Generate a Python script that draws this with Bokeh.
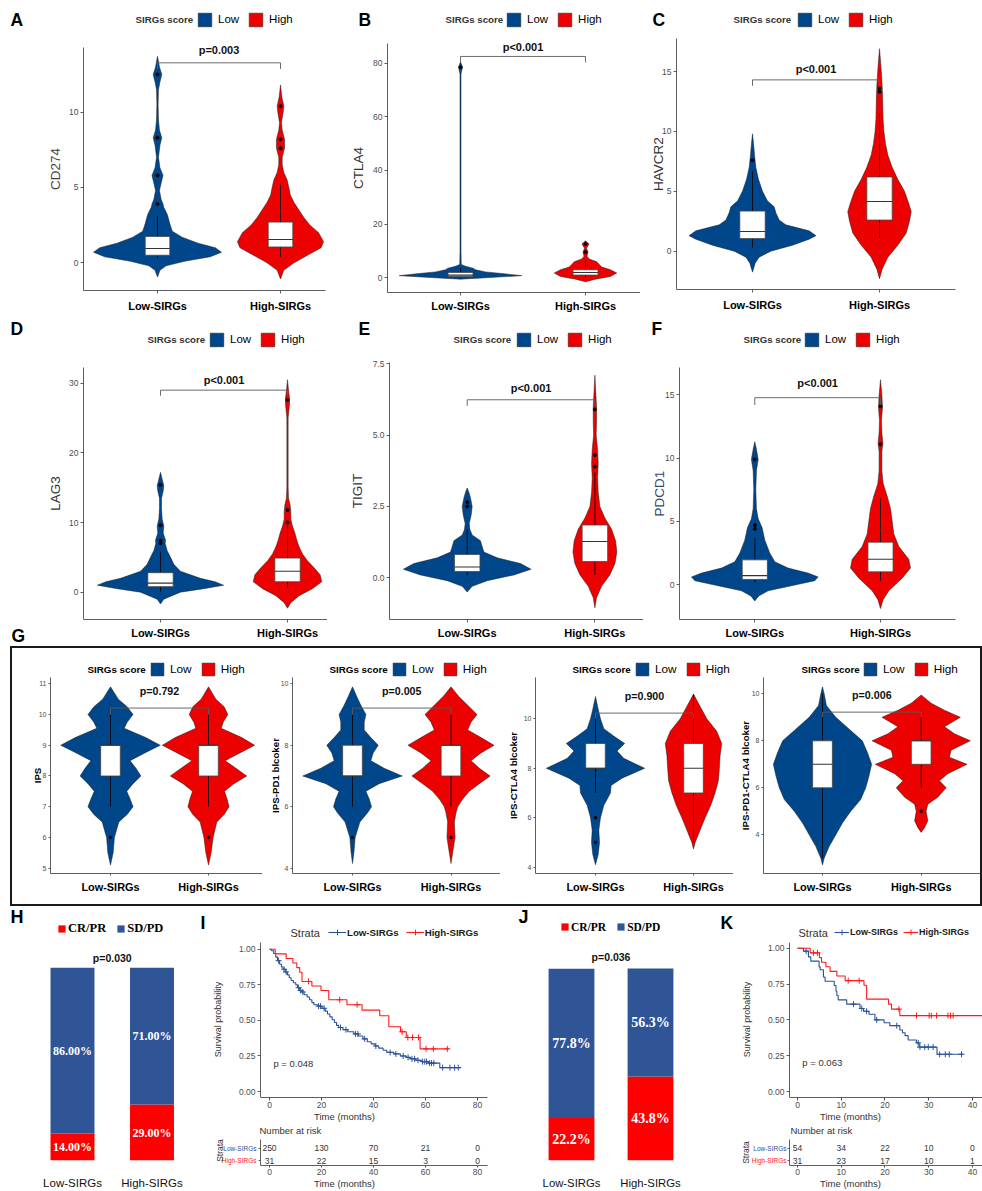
import math
import numpy as np
from bokeh.plotting import figure
from bokeh.models import Range1d, Legend, LegendItem, Label, FixedTicker, Spacer
from bokeh.layouts import row, column
from bokeh.embed import file_html
from bokeh.resources import INLINE
from bokeh.core.properties import value

# ---------------------------------------------------------------- data
GROUPS = ["Low-SIRGs", "High-SIRGs"]
SCORE_LEVELS = ["Low", "High"]
RESPONSE_LEVELS = ["CR/PR", "SD/PD"]

CD274_LOW_Y = [-0.95, -0.5, -0.2, 0.1, 0.4, 0.7, 1.0, 1.3, 1.7, 2.1, 2.6, 3.2, 3.7, 3.9, 4.2, 4.8, 5.3, 5.8, 6.3, 7.0, 7.8, 8.3, 8.8, 9.5, 10.5, 11.5, 12.0, 12.5, 13.0, 13.7]
CD274_LOW_W = [0, .02, .07, .22, .43, .52, .47, .33, .2, .12, .1, .08, .05, .045, .03, .016, .03, .045, .02, .008, .02, .035, .016, .008, .005, .008, .02, .035, .016, 0]
CD274_LOW_BOX = [0.3, 0.5, 0.95, 1.75, 3.1]
CD274_LOW_OUT = [3.9, 5.8, 8.3, 12.5]
CD274_HIGH_Y = [-1.07, -0.5, 0, 0.5, 1.0, 1.4, 2.0, 2.5, 3.0, 3.5, 4.0, 4.5, 5.0, 5.5, 6.0, 6.5, 7.0, 7.6, 8.2, 8.8, 9.3, 10.0, 10.4, 11.0, 11.8]
CD274_HIGH_W = [0, .027, .11, .22, .33, .35, .31, .24, .19, .15, .11, .08, .068, .054, .027, .014, .014, .033, .033, .014, .008, .022, .027, .011, 0]
CD274_HIGH_BOX = [0.4, 1.05, 1.55, 2.7, 5.2]
CD274_HIGH_OUT = [7.6, 8.2, 10.4]

CTLA4_LOW_Y = [-0.5, 0, 0.8, 1.5, 2.2, 3.0, 3.6, 4.3, 5.0, 10, 40, 76, 78.5, 80.5]
CTLA4_LOW_W = [0, .2, .49, .35, .2, .12, .1, .04, .006, .004, .004, .004, .016, 0]
CTLA4_LOW_BOX = [0.0, 0.5, 1.0, 2.0, 3.6]
CTLA4_LOW_OUT = [78.5]
CTLA4_HIGH_Y = [-1.5, -0.5, 0.5, 1.8, 3.0, 4.0, 5.0, 6.0, 7.0, 8.0, 9.6, 11.0, 12.6, 13.8]
CTLA4_HIGH_W = [0, .08, .2, .25, .2, .13, .11, .09, .03, .012, .02, .008, .028, 0]
CTLA4_HIGH_BOX = [0.0, 1.0, 2.0, 3.0, 6.5]
CTLA4_HIGH_OUT = [9.6, 12.6]

HAVCR2_LOW_Y = [-1.75, -1, -0.5, 0, 0.5, 1, 1.3, 1.7, 2.2, 2.6, 3.2, 3.7, 4.2, 5, 6, 7, 8, 9, 9.8]
HAVCR2_LOW_W = [0, .021, .052, .144, .315, .446, .5, .446, .262, .21, .184, .171, .118, .079, .047, .026, .016, .008, 0]
HAVCR2_LOW_BOX = [0.3, 1.05, 1.65, 3.35, 6.7]
HAVCR2_LOW_OUT = [7.6]
HAVCR2_HIGH_Y = [-2.3, -1.5, -0.5, 0.5, 1.5, 2.5, 3.3, 4, 5, 6, 7, 8, 9, 10, 11, 12, 13, 14, 15, 15.6, 16.9]
HAVCR2_HIGH_W = [0, .021, .066, .144, .21, .236, .25, .23, .197, .144, .1, .066, .047, .035, .028, .026, .024, .02, .014, .01, 0]
HAVCR2_HIGH_BOX = [1.1, 2.6, 4.15, 6.2, 11.5]
HAVCR2_HIGH_OUT = [13.3, 13.6]

LAG3_LOW_Y = [-1.7, -1, 0, 0.5, 1, 1.5, 2, 3, 4, 5, 6, 7, 7.5, 8.5, 9.5, 10.5, 12, 13.5, 14.5, 15.3, 16, 17.2]
LAG3_LOW_W = [0, .026, .157, .34, .497, .43, .314, .157, .105, .079, .052, .037, .039, .021, .026, .013, .008, .008, .021, .026, .016, 0]
LAG3_LOW_BOX = [0.1, 0.8, 1.3, 2.8, 5.8]
LAG3_LOW_OUT = [7.0, 7.4, 9.6, 15.4]
LAG3_HIGH_Y = [-2.3, -1.5, -0.5, 0.5, 1.5, 2.5, 3.5, 4.5, 5.5, 6.5, 7.5, 8.5, 9.5, 10.5, 11.5, 12.5, 13.5, 15, 20, 25, 27, 27.8, 29, 30.5]
LAG3_HIGH_W = [0, .026, .092, .196, .27, .257, .21, .157, .118, .092, .073, .058, .039, .026, .026, .021, .008, .005, .005, .005, .016, .016, .008, 0]
LAG3_HIGH_BOX = [0.6, 1.5, 3.0, 4.9, 9.5]
LAG3_HIGH_OUT = [10.0, 11.8, 27.6]

TIGIT_LOW_Y = [-0.5, -0.3, -0.1, 0.1, 0.3, 0.5, 0.7, 0.9, 1.1, 1.3, 1.5, 1.7, 1.9, 2.2, 2.5, 2.8, 3.0, 3.15]
TIGIT_LOW_W = [0, .039, .157, .366, .5, .418, .235, .131, .117, .104, .039, .021, .016, .031, .039, .026, .013, 0]
TIGIT_LOW_BOX = [0.08, 0.22, 0.38, 0.82, 1.7]
TIGIT_LOW_OUT = [2.5, 2.65]
TIGIT_HIGH_Y = [-1.05, -0.7, -0.3, 0.1, 0.5, 0.9, 1.3, 1.7, 2.1, 2.5, 3.0, 3.5, 4.0, 4.5, 5.0, 5.5, 6.0, 6.4, 7.1]
TIGIT_HIGH_W = [0, .013, .052, .117, .157, .172, .162, .131, .078, .039, .026, .021, .026, .021, .010, .013, .013, .008, 0]
TIGIT_HIGH_BOX = [0.1, 0.57, 1.27, 1.85, 3.7]
TIGIT_HIGH_OUT = [3.9, 4.3, 5.9]

PDCD1_LOW_Y = [-1.3, -0.9, -0.5, -0.1, 0.3, 0.6, 0.9, 1.3, 1.8, 2.5, 3.5, 4.5, 5.2, 6, 7.5, 9, 9.9, 10.7, 11.3]
PDCD1_LOW_W = [0, .032, .106, .292, .477, .504, .424, .265, .159, .119, .08, .058, .027, .013, .008, .013, .027, .013, 0]
PDCD1_LOW_BOX = [0.15, 0.4, 0.7, 1.95, 3.7]
PDCD1_LOW_OUT = [4.4, 4.7, 9.9]
PDCD1_HIGH_Y = [-1.9, -1.2, -0.5, 0.5, 1.3, 2, 3, 4, 5, 6, 7, 8, 9, 10.5, 11.2, 12, 13, 14, 15, 16.2]
PDCD1_HIGH_W = [0, .021, .066, .172, .239, .225, .146, .106, .093, .08, .053, .021, .011, .011, .019, .011, .008, .016, .011, 0]
PDCD1_HIGH_BOX = [0.3, 1.0, 2.0, 3.35, 6.8]
PDCD1_HIGH_OUT = [11.1, 14.1]

IPS_LOW_Y = [5.1, 5.5, 6.0, 6.5, 6.75, 7.0, 7.25, 7.5, 7.75, 8.0, 8.25, 8.5, 8.75, 9.0, 9.25, 9.55, 9.75, 10.0, 10.25, 10.5, 10.9]
IPS_LOW_W = [0, .027, .04, .085, .17, .23, .2, .166, .23, .31, .26, .2, .35, .508, .36, .14, .17, .23, .17, .08, 0]
IPS_LOW_BOX = [7, 8, 9, 9, 10]
IPS_LOW_OUT = [6]
IPS_HIGH_Y = [5.1, 5.5, 6.0, 6.5, 6.75, 7.0, 7.25, 7.5, 7.75, 8.0, 8.25, 8.5, 8.75, 9.0, 9.25, 9.55, 9.75, 10.0, 10.25, 10.5, 10.9]
IPS_HIGH_W = [0, .027, .047, .085, .16, .21, .19, .163, .26, .39, .28, .17, .32, .471, .34, .13, .15, .197, .16, .075, 0]
IPS_HIGH_BOX = [7, 8, 9, 9, 10]
IPS_HIGH_OUT = [6]

PD1B_LOW_Y = [4.15, 4.5, 5.0, 5.5, 5.8, 6.0, 6.25, 6.5, 6.75, 7.0, 7.25, 7.5, 7.75, 8.0, 8.25, 8.5, 8.75, 9.0, 9.3, 9.6, 9.9]
PD1B_LOW_W = [0, .014, .027, .075, .153, .193, .17, .136, .271, .505, .322, .186, .21, .261, .186, .119, .119, .136, .085, .041, 0]
PD1B_LOW_BOX = [6, 7, 7, 8, 9]
PD1B_LOW_OUT = [5]
PD1B_HIGH_Y = [4.15, 4.5, 5.0, 5.5, 5.8, 6.0, 6.25, 6.5, 6.75, 7.0, 7.25, 7.5, 7.75, 8.0, 8.25, 8.5, 8.75, 9.0, 9.3, 9.6, 9.9]
PD1B_HIGH_W = [0, .017, .041, .034, .051, .068, .119, .186, .288, .397, .288, .203, .305, .437, .305, .17, .203, .264, .17, .075, 0]
PD1B_HIGH_BOX = [6, 7, 8, 8, 9]
PD1B_HIGH_OUT = [5]

CTLA4B_LOW_Y = [4.1, 4.5, 5.0, 5.5, 6.0, 6.5, 7.0, 7.3, 7.6, 8.0, 8.4, 8.7, 9.0, 9.3, 9.6, 10.0, 10.4, 10.9]
CTLA4B_LOW_W = [0, .027, .041, .034, .051, .085, .153, .159, .271, .502, .288, .22, .298, .186, .085, .051, .027, 0]
CTLA4B_LOW_BOX = [7, 8, 8, 9, 10]
CTLA4B_LOW_OUT = [6, 5]
CTLA4B_HIGH_Y = [4.74, 5.0, 5.5, 6.0, 6.5, 7.0, 7.5, 8.0, 8.5, 9.0, 9.5, 10.0, 10.5, 11.0]
CTLA4B_HIGH_W = [0, .017, .068, .119, .176, .22, .254, .264, .271, .288, .237, .136, .068, 0]
CTLA4B_HIGH_BOX = [5, 7, 8, 9, 11]
CTLA4B_HIGH_OUT = []

PD1CTLA4B_LOW_Y = [2.72, 3.0, 3.5, 4.0, 4.5, 5.0, 5.5, 6.0, 6.5, 7.0, 7.5, 8.0, 8.5, 9.0, 9.5, 10.0, 10.3]
PD1CTLA4B_LOW_W = [0, .017, .067, .135, .202, .286, .387, .438, .471, .498, .455, .404, .269, .135, .04, .017, 0]
PD1CTLA4B_LOW_BOX = [3, 6, 7, 8, 10]
PD1CTLA4B_LOW_OUT = []
PD1CTLA4B_HIGH_Y = [4.1, 4.3, 4.6, 5.0, 5.3, 5.6, 6.0, 6.3, 6.6, 7.0, 7.3, 7.6, 8.0, 8.3, 8.6, 9.0, 9.3, 9.6, 9.95]
PD1CTLA4B_HIGH_W = [0, .034, .067, .05, .067, .168, .253, .185, .269, .465, .286, .303, .498, .337, .236, .397, .236, .101, 0]
PD1CTLA4B_HIGH_BOX = [6, 7, 8, 8, 9]
PD1CTLA4B_HIGH_OUT = [5]

ROW_YTITLES = ["CD274", "CTLA4", "HAVCR2", "LAG3", "TIGIT", "PDCD1"]
ROW_PVALUES = ["p=0.003", "p<0.001", "p<0.001", "p<0.001", "p<0.001", "p<0.001"]
G_YTITLES = ["IPS", "IPS-PD1 blcoker", "IPS-CTLA4 blcoker", "IPS-PD1-CTLA4 blcoker"]
G_PVALUES = ["p=0.792", "p=0.005", "p=0.900", "p=0.006"]

H_CRPR = [14.0, 29.0]
H_SDPD = [86.0, 71.0]
J_CRPR = [22.2, 43.8]
J_SDPD = [77.8, 56.3]
BAR_PVALUES = ["p=0.030", "p=0.036"]

I_LOW_T = [0, 0.8, 1.6, 2.4, 3.1, 3.9, 4.6, 5.2, 6.1, 6.9, 7.6, 8.3, 9.2, 10.1, 10.8, 11.6, 12.4, 13.3, 14.5, 15.4, 16.3, 17.1, 18.6, 20.2, 21.4, 22.3, 23.2, 24.1, 25.0, 25.8, 26.6, 28.2, 30.1, 32.4, 34.2, 35.9, 37.6, 39.1, 40.6, 42.0, 43.7, 45.1, 47.8, 50.3, 52.6, 54.2, 56.3, 58.4, 61.0, 65.5, 73.6]
I_LOW_S = [1.0, 0.99, 0.97, 0.945, 0.92, 0.895, 0.875, 0.86, 0.84, 0.82, 0.80, 0.78, 0.765, 0.75, 0.73, 0.71, 0.70, 0.68, 0.665, 0.645, 0.625, 0.61, 0.60, 0.585, 0.565, 0.545, 0.525, 0.505, 0.485, 0.465, 0.45, 0.435, 0.42, 0.405, 0.39, 0.37, 0.35, 0.335, 0.32, 0.305, 0.29, 0.275, 0.265, 0.25, 0.24, 0.23, 0.22, 0.21, 0.20, 0.168, 0.168]
I_LOW_CENS = [3.5, 5.6, 6.4, 11.2, 12.0, 12.8, 18.9, 19.6, 21.0, 27.3, 29.4, 33.1, 34.0, 36.6, 40.9, 46.4, 48.6, 51.4, 53.3, 54.8, 55.8, 57.1, 58.9, 59.7, 60.4, 61.5, 62.3, 63.2, 66.6, 69.4, 71.2, 72.6]
I_HIGH_T = [0, 2.2, 6.4, 9.0, 10.5, 11.6, 12.5, 16.3, 19.8, 22.8, 29.8, 35.6, 42.4, 45.9, 50.4, 52.6, 57.9, 69.0]
I_HIGH_S = [1.0, 0.968, 0.935, 0.903, 0.871, 0.839, 0.774, 0.742, 0.71, 0.645, 0.61, 0.572, 0.533, 0.455, 0.42, 0.38, 0.30, 0.30]
I_HIGH_CENS = [15.0, 27.0, 33.7, 51.0, 53.2, 55.0, 57.3, 60.2, 63.0, 68.4]
I_RISK_TIMES = [0, 20, 40, 60, 80]
I_RISK_LOW = [250, 130, 70, 21, 0]
I_RISK_HIGH = [31, 22, 15, 3, 0]
I_PVALUE = "p = 0.048"

K_LOW_T = [0, 1.37, 2.5, 3.04, 4.94, 5.17, 5.93, 6.31, 8.4, 8.8, 9.0, 9.3, 11.25, 14.3, 15.1, 16.35, 17.7, 19.8, 21.1, 23.4, 24.0, 24.6, 25.3, 27.2, 27.8, 31.9, 37.9]
K_LOW_S = [1.0, 0.98, 0.94, 0.91, 0.87, 0.85, 0.80, 0.77, 0.74, 0.70, 0.67, 0.64, 0.61, 0.58, 0.56, 0.54, 0.50, 0.48, 0.46, 0.43, 0.41, 0.39, 0.36, 0.34, 0.31, 0.26, 0.26]
K_LOW_CENS = [1.98, 12.8, 14.7, 15.8, 18.1, 22.7, 27.6, 28.0, 29.1, 29.9, 31.0, 32.5, 33.8, 34.7, 37.5]
K_HIGH_T = [0, 2.9, 5.0, 5.5, 6.5, 7.45, 9.0, 10.9, 15.2, 15.8, 20.8, 21.5, 23.4, 43.0]
K_HIGH_S = [1.0, 0.968, 0.935, 0.903, 0.871, 0.839, 0.806, 0.774, 0.742, 0.645, 0.61, 0.575, 0.53, 0.53]
K_HIGH_CENS = [3.65, 4.56, 11.6, 14.1, 23.2, 27.2, 30.1, 30.6, 31.8, 34.4, 35.0, 35.6]
K_RISK_TIMES = [0, 10, 20, 30, 40]
K_RISK_LOW = [54, 34, 22, 10, 0]
K_RISK_HIGH = [31, 23, 17, 10, 1]
K_PVALUE = "p = 0.063"
SURV_TICKS = [0.0, 0.25, 0.5, 0.75, 1.0]

# ---------------------------------------------------------------- style / helpers
SANS = "Liberation Sans"
SERIF = "Liberation Serif"
LOW_C = "#00468B"
HIGH_C = "#ED0000"
KM_LOW_C = "#2A5298"
KM_HIGH_C = "#FF1A1A"
BAR_BLUE = "#2F5597"
BAR_RED = "#FF0000"
AXIS_C = "#4d4d4d"


class Geo:
    """Maps page pixels to data coordinates for one figure."""

    def __init__(self, px, py, w, h, left, bottom, xmap, ymap):
        self.px, self.py, self.w, self.h = px, py, w, h
        self.left, self.bottom = left, bottom
        self.FL, self.FT, self.FR, self.FB = px + left, py, px + w, py + h - bottom
        self.xmap, self.ymap = xmap, ymap

    def dx(self, page_x):
        p0, d0, ppu = self.xmap
        return d0 + (page_x - p0) / ppu

    def dy(self, page_y):
        p0, d0, ppu = self.ymap
        return d0 + (p0 - page_y) / ppu

    def fig(self, **kw):
        p = figure(width=self.w, height=self.h,
                   x_range=Range1d(self.dx(self.FL), self.dx(self.FR)),
                   y_range=Range1d(self.dy(self.FB), self.dy(self.FT)),
                   output_backend="svg", toolbar_location=None, title=None,
                   min_border_left=self.left, min_border_right=0, min_border_top=0,
                   min_border_bottom=self.bottom, **kw)
        p.outline_line_color = None
        p.grid.visible = False
        p.background_fill_color = "white"
        p.border_fill_color = "white"
        return p

    def label(self, p, x, y, text, size, bold=False, color="black", align="left",
              font=SANS, angle=0.0):
        p.add_layout(Label(x=x - self.FL, y=self.FB - y, x_units="screen", y_units="screen",
                           text=text, text_font=font, text_font_size=f"{size}px",
                           text_font_style="bold" if bold else "normal", text_color=color,
                           text_align=align, text_baseline="middle", angle=angle))

    def legend(self, p, kw, X, Ytop, h):
        p.add_layout(Legend(location=(X - self.FL, self.FB - Ytop - h), **kw))


def base_legend(items, gw, gh, lsize, lfont=SANS, lbold=False, lcolor="black", lstand=4,
                spacing=7):
    return dict(items=items, orientation="horizontal", glyph_width=gw, glyph_height=gh,
                label_height=gh, label_width=1, label_standoff=lstand, spacing=spacing,
                padding=0, margin=0, border_line_color=None, background_fill_alpha=0,
                label_text_font=lfont, label_text_font_size=f"{lsize}px",
                label_text_font_style="bold" if lbold else "normal",
                label_text_color=lcolor)


def plain_axis(ax, ticks, tick_out=3):
    """Axis line + tick marks only (tick marks drawn as minor ticks, so no labels)."""
    ax.ticker = FixedTicker(ticks=[], minor_ticks=list(ticks))
    ax.axis_line_color = AXIS_C
    ax.axis_line_width = 0.9
    ax.major_tick_line_color = None
    ax.minor_tick_line_color = AXIS_C
    ax.minor_tick_line_width = 0.9
    ax.minor_tick_in = 0
    ax.minor_tick_out = tick_out
    ax.major_label_standoff = 0


def label_axis(ax, ticks, tick_out=3):
    ax.ticker = FixedTicker(ticks=list(ticks))
    ax.axis_line_color = AXIS_C
    ax.axis_line_width = 0.9
    ax.major_tick_line_color = AXIS_C
    ax.major_tick_in = 0
    ax.major_tick_out = tick_out
    ax.minor_tick_line_color = None


ROW_ST = dict(gw=17, tsize=9.7, lsize=11.5, psize=11, xsize=11, ysize=13.5, ybold=False,
              ytick=8.5, dot=3, tick=3, tcolor="#333333")
G_ST = dict(gw=16, tsize=9.8, lsize=11.8, psize=10.7, xsize=10.9, ysize=9.7, ybold=True,
            ytick=7, dot=2.5, tick=2, tcolor="black")


def violin_fig(g, area, yticks, ylabels, ytitle, ytitle_x, low, high, ptext, bracket, letters,
               legend_spec, st, xlab_dy, ytcolor="#333333"):
    p = g.fig()
    DL, DT, DR, DB = area
    ax_x, ax_y, top_y, right_x = g.dx(DL), g.dy(DB), g.dy(DT), g.dx(DR)
    rends = []
    for cx, data, col in ((1, low, LOW_C), (2, high, HIGH_C)):
        Y, W = data[0], data[1]
        xs = [cx - v for v in W] + [cx + v for v in reversed(W)]
        ys = list(Y) + list(reversed(Y))
        rends.append(p.patch(xs, ys, fill_color=col, line_color="#1e1e1e", line_width=0.5))
    bw = 0.1
    for cx, data in ((1, low), (2, high)):
        BOX, OUT = data[2], data[3]
        p.segment(x0=[cx, cx], y0=[BOX[0], BOX[3]], x1=[cx, cx], y1=[BOX[1], BOX[4]],
                  line_color="black", line_width=0.8)
        p.quad(left=[cx - bw], right=[cx + bw], bottom=[BOX[1]], top=[BOX[3]],
               fill_color="white", line_color="#444444", line_width=0.8)
        p.segment(x0=[cx - bw], x1=[cx + bw], y0=[BOX[2]], y1=[BOX[2]],
                  line_color="#333333", line_width=1.1)
        if OUT:
            p.scatter(x=[cx] * len(OUT), y=OUT, size=st["dot"], fill_color="black",
                      line_color="black")
    top, tick_bottom, ptext_y = bracket
    p.line(x=[1, 1, 2, 2], y=[tick_bottom, top, top, tick_bottom], line_color="#5a5a5a",
           line_width=0.9)
    p.add_layout(Label(x=1.5, y=ptext_y, text=ptext, text_align="center",
                       text_baseline="middle", text_font=SANS,
                       text_font_size=f"{st['psize']}px", text_font_style="bold",
                       text_color="#111111"))
    xa, ya = p.xaxis[0], p.yaxis[0]
    plain_axis(xa, [1, 2], st["tick"])
    xa.fixed_location = ax_y
    xa.bounds = (ax_x, right_x)
    plain_axis(ya, yticks, st["tick"])
    ya.fixed_location = ax_x
    ya.bounds = (ax_y, top_y)
    p.text(x=[1, 2], y=[ax_y, ax_y], text=GROUPS, y_offset=xlab_dy, text_align="center",
           text_baseline="middle", text_font=value(SANS), text_font_size=f"{st['xsize']}px",
           text_font_style="bold", text_color="black")
    p.text(x=[ax_x] * len(yticks), y=list(yticks), text=list(ylabels),
           x_offset=-(st["tick"] + 2), text_align="right", text_baseline="middle",
           text_font=value(SANS), text_font_size=f"{st['ytick']}px", text_color=AXIS_C)
    g.label(p, ytitle_x, (DT + DB) / 2, ytitle, st["ysize"], bold=st["ybold"],
            color=ytcolor if not st["ybold"] else "black", align="center", angle=math.pi / 2)
    items = [LegendItem(label=SCORE_LEVELS[0], renderers=[rends[0]]),
             LegendItem(label=SCORE_LEVELS[1], renderers=[rends[1]])]
    title_x, swatch_x, cy = legend_spec
    g.label(p, title_x, cy, "SIRGs score", st["tsize"], bold=True, color=st["tcolor"])
    kw = base_legend(items, st["gw"], st["gw"], st["lsize"], lstand=5, spacing=8)
    g.legend(p, kw, swatch_x, cy - st["gw"] / 2, st["gw"])
    for (letter, lx, ly) in letters:
        g.label(p, lx, ly, letter, 17.5, bold=True)
    return p


def step_value(t, s, c):
    idx = int(np.searchsorted(np.asarray(t), c, side="right")) - 1
    return s[max(idx, 0)]


def km_fig(g, area, xticks, low, high, ptext, p_x, letter, legend_spec, ytitle_x,
           leg_size=9.7, leg_gw=18, leg_spacing=7):
    p = g.fig()
    DL, DT, DR, DB = area
    ax_x, ax_y, top_y, right_x = g.dx(DL), g.dy(DB), g.dy(DT), g.dx(DR)
    items = []
    for (t, s, cens), col, name in ((low, KM_LOW_C, GROUPS[0]), (high, KM_HIGH_C, GROUPS[1])):
        r1 = p.step(t, s, mode="after", line_color=col, line_width=1.1)
        cy = [step_value(t, s, c) for c in cens]
        r2 = p.scatter(cens, cy, marker="cross", size=6, line_color=col, line_width=1)
        items.append(LegendItem(label=name, renderers=[r1, r2]))
    p.add_layout(Label(x=p_x, y=0.2, text=ptext, text_align="left", text_baseline="middle",
                       text_font=SANS, text_font_size="9.5px", text_color="#333333"))
    xa, ya = p.xaxis[0], p.yaxis[0]
    label_axis(xa, xticks, 3)
    xa.bounds = (ax_x, right_x)
    xa.major_label_text_font = SANS
    xa.major_label_text_font_size = "8.5px"
    xa.major_label_text_color = AXIS_C
    xa.major_label_standoff = 1
    xa.axis_label = "Time (months)"
    xa.axis_label_text_font = SANS
    xa.axis_label_text_font_size = "9.5px"
    xa.axis_label_text_font_style = "normal"
    xa.axis_label_text_color = "#333333"
    xa.axis_label_standoff = 0
    plain_axis(ya, SURV_TICKS, 3)
    ya.fixed_location = ax_x
    ya.bounds = (ax_y, top_y)
    p.text(x=[ax_x] * len(SURV_TICKS), y=SURV_TICKS, text=[f"{v:.2f}" for v in SURV_TICKS],
           x_offset=-5, text_align="right", text_baseline="middle", text_font=value(SANS),
           text_font_size="8.5px", text_color=AXIS_C)
    g.label(p, ytitle_x, (DT + DB) / 2, "Survival probability", 9, color="#333333",
            align="center", angle=math.pi / 2)
    title_x, glyph_x, cy = legend_spec
    g.label(p, title_x, cy, "Strata", 11, color="#333333")
    kw = base_legend(items, leg_gw, 14, leg_size, lbold=True, lcolor="#1a1a1a", lstand=1,
                     spacing=leg_spacing)
    g.legend(p, kw, glyph_x, cy - 7, 14)
    g.label(p, letter[1], letter[2], letter[0], 17.5, bold=True)
    return p


def risk_fig(g, axis_page_x, right_page_x, axis_top_page, times, low, high, title_xy,
             row_label_page_x, strata_xy):
    p = g.fig()
    ax_x = g.dx(axis_page_x)
    xs = list(times) + list(times)
    ys = [2] * len(times) + [1] * len(times)
    txt = [str(v) for v in list(low) + list(high)]
    p.text(x=xs, y=ys, text=txt, text_align="center", text_baseline="middle",
           text_font=value(SANS), text_font_size="8.5px", text_color="#333333")
    rx = g.dx(row_label_page_x)
    p.text(x=[rx, rx], y=[2, 1], text=GROUPS, text_align="right", text_baseline="middle",
           text_font=value(SANS), text_font_size="6.5px", text_color=[KM_LOW_C, KM_HIGH_C])
    g.label(p, title_xy[0], title_xy[1], "Number at risk", 9.5, color="#333333")
    g.label(p, strata_xy[0], strata_xy[1], "Strata", 8.5, color="#333333", align="center",
            angle=math.pi / 2)
    xa, ya = p.xaxis[0], p.yaxis[0]
    label_axis(xa, times, 2)
    xa.bounds = (ax_x, g.dx(right_page_x))
    xa.major_label_text_font = SANS
    xa.major_label_text_font_size = "8.5px"
    xa.major_label_text_color = AXIS_C
    xa.major_label_standoff = 1
    xa.axis_label = "Time (months)"
    xa.axis_label_text_font = SANS
    xa.axis_label_text_font_size = "9.5px"
    xa.axis_label_text_font_style = "normal"
    xa.axis_label_text_color = "#333333"
    xa.axis_label_standoff = 0
    plain_axis(ya, [1, 2], 2)
    ya.fixed_location = ax_x
    ya.bounds = (g.dy(g.FB), g.dy(axis_top_page))
    return p


def bar_fig(g, crpr, sdpd, width, fmt, pct_size, ptext, p_y_page, letter, legend_xy,
            leg_size, xsize):
    p = g.fig(y_axis_location=None)
    xs = [1, 2]
    r_red = p.vbar(x=xs, bottom=0, top=crpr, width=width, fill_color=BAR_RED, line_color=None)
    tops = [c + s for c, s in zip(crpr, sdpd)]
    r_blue = p.vbar(x=xs, bottom=crpr, top=tops, width=width, fill_color=BAR_BLUE,
                    line_color=None)
    p.text(x=xs, y=[c / 2 for c in crpr], text=[fmt.format(c) for c in crpr],
           text_align="center", text_baseline="middle", text_font=value(SERIF),
           text_font_size=f"{pct_size}px", text_font_style="bold", text_color="white")
    p.text(x=xs, y=[c + s / 2 for c, s in zip(crpr, sdpd)], text=[fmt.format(s) for s in sdpd],
           text_align="center", text_baseline="middle", text_font=value(SERIF),
           text_font_size=f"{pct_size}px", text_font_style="bold", text_color="white")
    p.add_layout(Label(x=1.5, y=g.dy(p_y_page), text=ptext, text_align="center",
                       text_baseline="middle", text_font=SANS, text_font_size="10.5px",
                       text_font_style="bold", text_color="#111111"))
    xa = p.xaxis[0]
    xa.ticker = FixedTicker(ticks=xs)
    xa.major_label_overrides = {1: GROUPS[0], 2: GROUPS[1]}
    xa.axis_line_color = None
    xa.major_tick_line_color = None
    xa.minor_tick_line_color = None
    xa.major_label_text_font = SANS
    xa.major_label_text_font_size = f"{xsize}px"
    xa.major_label_text_color = "#111111"
    xa.major_label_standoff = 10
    items = [LegendItem(label=RESPONSE_LEVELS[0], renderers=[r_red]),
             LegendItem(label=RESPONSE_LEVELS[1], renderers=[r_blue])]
    X, cy = legend_xy
    kw = base_legend(items, 9, 9, leg_size, lfont=SERIF, lbold=True, lstand=2, spacing=10)
    g.legend(p, kw, X, cy - 4.5, 9)
    g.label(p, letter[1], letter[2], letter[0], 18, bold=True)
    return p


# ---------------------------------------------------------------- row 1
gA = Geo(0, 0, 327, 316, 4, 3, (157, 1, 123), (262.3, 0, 15.07))
pA = violin_fig(gA, (83, 47, 325, 290), [0, 5, 10], ["0", "5", "10"], ROW_YTITLES[0], 55,
                (CD274_LOW_Y, CD274_LOW_W, CD274_LOW_BOX, CD274_LOW_OUT),
                (CD274_HIGH_Y, CD274_HIGH_W, CD274_HIGH_BOX, CD274_HIGH_OUT),
                ROW_PVALUES[0], (13.27, 12.87, 14.1), [("A", 10, 19)], (135, 196, 19), ROW_ST,
                15, ytcolor="#4a3f36")
gB = Geo(327, 0, 313, 316, 4, 3, (460, 1, 125), (277.3, 0, 2.683))
pB = violin_fig(gB, (387, 43, 640, 292), [0, 20, 40, 60, 80], ["0", "20", "40", "60", "80"],
                ROW_YTITLES[1], 358,
                (CTLA4_LOW_Y, CTLA4_LOW_W, CTLA4_LOW_BOX, CTLA4_LOW_OUT),
                (CTLA4_HIGH_Y, CTLA4_HIGH_W, CTLA4_HIGH_BOX, CTLA4_HIGH_OUT),
                ROW_PVALUES[1], (82.5, 80.3, 86.2), [("B", 358, 19)], (445, 505, 19), ROW_ST,
                13)
gC = Geo(640, 0, 342, 316, 4, 3, (752, 1, 127), (250.7, 0, 11.98))
pC = violin_fig(gC, (676, 38, 955, 289), [0, 5, 10, 15], ["0", "5", "10", "15"],
                ROW_YTITLES[2], 658,
                (HAVCR2_LOW_Y, HAVCR2_LOW_W, HAVCR2_LOW_BOX, HAVCR2_LOW_OUT),
                (HAVCR2_HIGH_Y, HAVCR2_HIGH_W, HAVCR2_HIGH_BOX, HAVCR2_HIGH_OUT),
                ROW_PVALUES[2], (14.3, 13.8, 15.25), [("C", 652, 19)], (733, 796, 19), ROW_ST,
                15)

# ---------------------------------------------------------------- row 2
gD = Geo(0, 316, 327, 330, 4, 3, (160, 1, 127), (591.7, 0, 6.967))
pD = violin_fig(gD, (83, 367, 327, 619), [0, 10, 20, 30], ["0", "10", "20", "30"],
                ROW_YTITLES[3], 55,
                (LAG3_LOW_Y, LAG3_LOW_W, LAG3_LOW_BOX, LAG3_LOW_OUT),
                (LAG3_HIGH_Y, LAG3_HIGH_W, LAG3_HIGH_BOX, LAG3_HIGH_OUT),
                ROW_PVALUES[3], (29.0, 28.2, 30.5), [("D", 10, 328), ("G", 11, 635)],
                (147, 208, 339), ROW_ST, 13)
gE = Geo(327, 316, 316, 330, 4, 3, (466.7, 1, 127.7), (577.3, 0, 28.53))
pE = violin_fig(gE, (389, 362, 643, 619), [0, 2.5, 5, 7.5], ["0.0", "2.5", "5.0", "7.5"],
                ROW_YTITLES[4], 357,
                (TIGIT_LOW_Y, TIGIT_LOW_W, TIGIT_LOW_BOX, TIGIT_LOW_OUT),
                (TIGIT_HIGH_Y, TIGIT_HIGH_W, TIGIT_HIGH_BOX, TIGIT_HIGH_OUT),
                ROW_PVALUES[4], (6.24, 6.03, 6.67), [("E", 358, 328)], (453, 515, 339), ROW_ST,
                13)
gF = Geo(643, 316, 339, 330, 4, 3, (754.3, 1, 125.7), (584, 0, 12.64))
pF = violin_fig(gF, (679, 367, 955, 619), [0, 5, 10, 15], ["0", "5", "10", "15"],
                ROW_YTITLES[5], 659,
                (PDCD1_LOW_Y, PDCD1_LOW_W, PDCD1_LOW_BOX, PDCD1_LOW_OUT),
                (PDCD1_HIGH_Y, PDCD1_HIGH_W, PDCD1_HIGH_BOX, PDCD1_HIGH_OUT),
                ROW_PVALUES[5], (14.78, 14.2, 15.95), [("F", 651, 328)], (743, 803, 339),
                ROW_ST, 13, ytcolor="#34466e")

# ---------------------------------------------------------------- row 3 (G)
gg1 = Geo(12, 648, 250, 256, 4, 3, (110, 1, 98), (683.3, 11, 30.73))
g1 = violin_fig(gg1, (50, 677, 262, 873), [5, 6, 7, 8, 9, 10, 11],
                ["5", "6", "7", "8", "9", "10", "11"], G_YTITLES[0], 37,
                (IPS_LOW_Y, IPS_LOW_W, IPS_LOW_BOX, IPS_LOW_OUT),
                (IPS_HIGH_Y, IPS_HIGH_W, IPS_HIGH_BOX, IPS_HIGH_OUT),
                G_PVALUES[0], (10.21, 10.0, 10.78), [], (87, 149, 669), G_ST, 13)
gg2 = Geo(262, 648, 238, 256, 4, 3, (352, 1, 98.5), (683.3, 10, 30.73))
g2 = violin_fig(gg2, (292, 677, 500, 873), [4, 6, 8, 10], ["4", "6", "8", "10"],
                G_YTITLES[1], 275,
                (PD1B_LOW_Y, PD1B_LOW_W, PD1B_LOW_BOX, PD1B_LOW_OUT),
                (PD1B_HIGH_Y, PD1B_HIGH_W, PD1B_HIGH_BOX, PD1B_HIGH_OUT),
                G_PVALUES[1], (9.21, 9.0, 9.78), [], (329, 391, 669), G_ST, 13)
gg3 = Geo(500, 648, 233, 256, 4, 3, (595, 1, 98), (718.3, 10, 24.73))
g3 = violin_fig(gg3, (535, 677, 733, 873), [4, 6, 8, 10], ["4", "6", "8", "10"],
                G_YTITLES[2], 513,
                (CTLA4B_LOW_Y, CTLA4B_LOW_W, CTLA4B_LOW_BOX, CTLA4B_LOW_OUT),
                (CTLA4B_HIGH_Y, CTLA4B_HIGH_W, CTLA4B_HIGH_BOX, CTLA4B_HIGH_OUT),
                G_PVALUES[2], (10.23, 10.0, 10.94), [], (572, 634, 669), G_ST, 13)
gg4 = Geo(733, 648, 247, 256, 4, 3, (822, 1, 98.7), (693.3, 10, 23.5))
g4 = violin_fig(gg4, (763, 677, 980, 873), [4, 6, 8, 10], ["4", "6", "8", "10"],
                G_YTITLES[3], 745,
                (PD1CTLA4B_LOW_Y, PD1CTLA4B_LOW_W, PD1CTLA4B_LOW_BOX, PD1CTLA4B_LOW_OUT),
                (PD1CTLA4B_HIGH_Y, PD1CTLA4B_HIGH_W, PD1CTLA4B_HIGH_BOX, PD1CTLA4B_HIGH_OUT),
                G_PVALUES[3], (9.22, 9.0, 9.93), [], (801, 862, 669), G_ST, 13)

BOX_STYLE = {"background-color": "#1a1a1a"}
g_box = column(
    Spacer(width=972, height=2, styles=BOX_STYLE),
    row(Spacer(width=2, height=256, styles=BOX_STYLE), g1, g2, g3, g4,
        Spacer(width=2, height=256, styles=BOX_STYLE)),
    Spacer(width=972, height=2, styles=BOX_STYLE),
)

# ---------------------------------------------------------------- row 4
gH = Geo(0, 906, 194, 285, 0, 24, (72, 1, 79.5), (1167, 0, 1.98))
pH = bar_fig(gH, H_CRPR, H_SDPD, 0.553, "{:.2f}%", 12, BAR_PVALUES[0], 959, ("H", 10, 923),
             (57, 938), 12.5, 11.5)
gI = Geo(194, 906, 296, 218, 4, 26, (269, 0, 2.6), (1092, 0, 143))
pIkm = km_fig(gI, (260, 942, 487, 1098), I_RISK_TIMES,
              (I_LOW_T, I_LOW_S, I_LOW_CENS), (I_HIGH_T, I_HIGH_S, I_HIGH_CENS),
              I_PVALUE, 1.5, ("I", 200, 923), (290, 328, 933), 217)
gIt = Geo(194, 1124, 296, 67, 4, 24, (269, 0, 2.6), (1149, 2, 13))
pItab = risk_fig(gIt, 260, 487, 1140, I_RISK_TIMES, I_RISK_LOW, I_RISK_HIGH, (259, 1132),
                 256, (219, 1152))
gJ = Geo(490, 906, 224, 285, 0, 24, (571, 1, 79), (1167, 0, 1.97))
pJ = bar_fig(gJ, J_CRPR, J_SDPD, 0.58, "{:.1f}%", 14, BAR_PVALUES[1], 958, ("J", 518, 923),
             (560, 935), 11.5, 11.3)
gK = Geo(714, 906, 268, 218, 4, 26, (797, 0, 4.3735), (1092, 0, 144))
pKkm = km_fig(gK, (789, 942, 982, 1098), K_RISK_TIMES,
              (K_LOW_T, K_LOW_S, K_LOW_CENS), (K_HIGH_T, K_HIGH_S, K_HIGH_CENS),
              K_PVALUE, 1.1, ("K", 720, 923), (798, 834, 933), 746,
              leg_size=9, leg_gw=15, leg_spacing=5)
gKt = Geo(714, 1124, 268, 67, 4, 24, (797, 0, 4.3735), (1149, 2, 13))
pKtab = risk_fig(gKt, 789, 982, 1140, K_RISK_TIMES, K_RISK_LOW, K_RISK_HIGH, (790, 1132),
                 786, (745, 1154))

layout = column(
    row(pA, pB, pC),
    row(pD, pE, pF),
    row(Spacer(width=10, height=260), g_box),
    row(pH, column(pIkm, pItab), pJ, column(pKkm, pKtab)),
)

open("out.html", "w").write(file_html(layout, INLINE))
